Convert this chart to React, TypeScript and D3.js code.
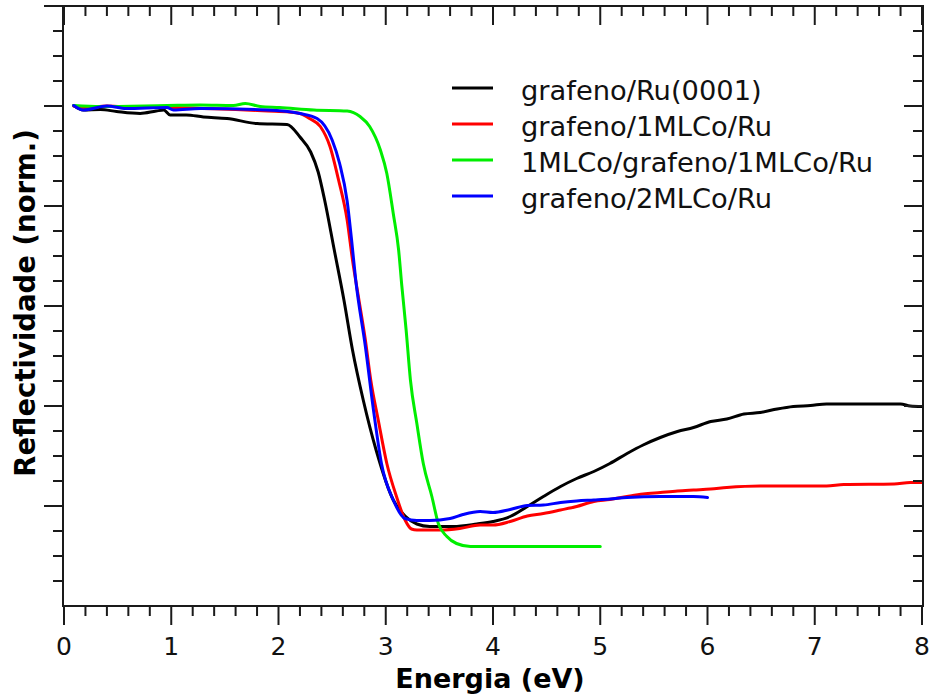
import React from "react";
import * as d3 from "d3";

const W = 932;
const H = 698;

const seriesNames = [
  "grafeno/Ru(0001)",
  "grafeno/1MLCo/Ru",
  "1MLCo/grafeno/1MLCo/Ru",
  "grafeno/2MLCo/Ru",
];
const seriesColors = ["#000000", "#ff0000", "#00ee00", "#0000ff"];

const xTicks = [0, 1, 2, 3, 4, 5, 6, 7, 8];

// grafeno/Ru(0001)
const blackX = [0.09, 0.18, 0.34, 0.49, 0.71, 0.86, 0.93, 0.99, 1.14, 1.3, 1.52, 1.8, 2.08, 2.2, 2.3, 2.37, 2.43, 2.52, 2.61, 2.69, 2.79, 2.91, 3.07, 3.18, 3.29, 3.41, 3.63, 3.85, 4.0, 4.16, 4.32, 4.47, 4.63, 4.78, 4.94, 5.09, 5.25, 5.4, 5.56, 5.72, 5.87, 6.03, 6.18, 6.34, 6.49, 6.65, 6.8, 6.96, 7.11, 7.43, 7.8, 7.89, 8.0];
const blackY = [1.001, 0.992, 0.993, 0.989, 0.985, 0.99, 0.992, 0.982, 0.982, 0.978, 0.975, 0.965, 0.963, 0.938, 0.908, 0.868, 0.812, 0.712, 0.612, 0.512, 0.412, 0.312, 0.212, 0.18, 0.164, 0.159, 0.159, 0.164, 0.169, 0.179, 0.199, 0.219, 0.239, 0.255, 0.269, 0.285, 0.305, 0.322, 0.337, 0.349, 0.357, 0.369, 0.374, 0.384, 0.387, 0.394, 0.399, 0.401, 0.404, 0.404, 0.404, 0.4, 0.399];

// grafeno/1MLCo/Ru
const redX = [0.09, 0.2, 0.4, 0.7, 1.0, 1.3, 1.6, 1.9, 2.1, 2.2, 2.29, 2.39, 2.48, 2.56, 2.64, 2.69, 2.75, 2.81, 2.86, 2.93, 3.01, 3.1, 3.18, 3.24, 3.29, 3.51, 3.69, 3.88, 4.0, 4.16, 4.32, 4.47, 4.63, 4.78, 4.94, 5.09, 5.25, 5.4, 5.56, 5.72, 5.87, 6.03, 6.18, 6.49, 7.11, 7.27, 7.74, 7.89, 8.0];
const redY = [1.0, 0.996, 1.0, 0.997, 0.997, 0.995, 0.993, 0.99, 0.988, 0.985, 0.975, 0.959, 0.919, 0.852, 0.772, 0.692, 0.612, 0.532, 0.452, 0.372, 0.285, 0.219, 0.172, 0.154, 0.152, 0.152, 0.155, 0.162, 0.162, 0.169, 0.18, 0.185, 0.192, 0.199, 0.209, 0.213, 0.219, 0.224, 0.227, 0.23, 0.232, 0.234, 0.237, 0.24, 0.24, 0.243, 0.244, 0.247, 0.247];

// 1MLCo/grafeno/1MLCo/Ru
const greenX = [0.09, 0.34, 0.96, 1.27, 1.58, 1.69, 1.83, 2.01, 2.33, 2.64, 2.76, 2.85, 2.95, 3.01, 3.07, 3.12, 3.15, 3.19, 3.23, 3.29, 3.35, 3.43, 3.49, 3.57, 3.66, 3.79, 5.0];
const greenY = [1.001, 0.999, 1.001, 1.002, 1.001, 1.005, 0.999, 0.997, 0.992, 0.99, 0.979, 0.959, 0.912, 0.865, 0.785, 0.712, 0.64, 0.552, 0.452, 0.365, 0.285, 0.219, 0.165, 0.139, 0.125, 0.119, 0.119];

// grafeno/2MLCo/Ru
const blueX = [0.09, 0.18, 0.4, 0.58, 0.96, 1.02, 1.27, 1.89, 2.2, 2.36, 2.5, 2.57, 2.64, 2.68, 2.72, 2.81, 2.89, 2.96, 3.07, 3.18, 3.29, 3.41, 3.6, 3.72, 3.88, 4.0, 4.16, 4.32, 4.47, 4.63, 4.78, 4.94, 5.09, 5.25, 5.56, 5.87, 6.0];
const blueY = [1.001, 0.992, 1.0, 0.995, 0.997, 0.992, 0.995, 0.992, 0.985, 0.975, 0.932, 0.885, 0.81, 0.735, 0.652, 0.519, 0.385, 0.285, 0.212, 0.175, 0.171, 0.171, 0.175, 0.183, 0.189, 0.187, 0.193, 0.201, 0.202, 0.207, 0.21, 0.212, 0.214, 0.217, 0.219, 0.219, 0.217];

const seriesXs = [blackX, redX, greenX, blueX];
const seriesYs = [blackY, redY, greenY, blueY];

const FONT = "'DejaVu Sans', Verdana, sans-serif";

export default function App() {
  const left = 64, right = 922, top = 6, bottom = 606;
  const x = d3.scaleLinear().domain([0, 8]).range([left, right]);
  const y = d3.scaleLinear().domain([0, 1.2]).range([bottom, top]);

  const line = d3
    .line<[number, number]>()
    .x((d) => x(d[0]))
    .y((d) => y(d[1]))
    .curve(d3.curveMonotoneX);

  const xMinor = d3.range(0, 8.0001, 0.2).map((v) => +v.toFixed(2));
  const yMinor = d3.range(0, 1.2001, 0.05).map((v) => +v.toFixed(3));
  const isMajorX = (v: number) => Math.abs(v - Math.round(v)) < 1e-6;
  const isMajorY = (v: number) => Math.abs(v / 0.2 - Math.round(v / 0.2)) < 1e-6;

  const axisColor = "#1a1a1a";
  const fx0 = left - 1, fx1 = right + 1;

  return (
    <svg
      width={W}
      height={H}
      style={{ position: "absolute", left: 0, top: 0, background: "#fff", display: "block" }}
    >
      <rect x={0} y={0} width={W} height={H} fill="#fff" />
      {/* curves */}
      <g fill="none" strokeWidth={3} strokeLinejoin="round" strokeLinecap="round">
        {seriesXs.map((xs, i) => {
          const pts: [number, number][] = xs.map((v, j) => [v, seriesYs[i][j]]);
          return <path key={i} d={line(pts) || ""} stroke={seriesColors[i]} />;
        })}
      </g>
      {/* frame */}
      <rect x={fx0} y={top} width={fx1 - fx0} height={bottom - top} fill="none" stroke={axisColor} strokeWidth={2} />
      {/* ticks */}
      <g stroke={axisColor} strokeWidth={2}>
        {xMinor.map((v) => {
          const len = isMajorX(v) ? 19 : 10;
          return (
            <g key={"xt" + v}>
              <line x1={x(v)} x2={x(v)} y1={bottom} y2={bottom + len} />
              <line x1={x(v)} x2={x(v)} y1={top} y2={top + len} />
            </g>
          );
        })}
        {yMinor.map((v) => {
          if (v === 0) return null;
          const len = isMajorY(v) ? 19 : 10;
          return (
            <g key={"yt" + v}>
              <line x1={fx0} x2={fx0 - len} y1={y(v)} y2={y(v)} />
              <line x1={fx1} x2={fx1 - len} y1={y(v)} y2={y(v)} />
            </g>
          );
        })}
      </g>
      {/* x tick labels */}
      <g fontFamily={FONT} fontSize={25} fill="#111" textAnchor="middle">
        {xTicks.map((t) => (
          <text key={"xl" + t} x={x(t)} y={655}>
            {t}
          </text>
        ))}
      </g>
      {/* axis titles */}
      <text x={490} y={688} fontFamily={FONT} fontSize={27} fontWeight="bold" textAnchor="middle" fill="#000">
        Energia (eV)
      </text>
      <text
        transform={`translate(35,303) rotate(-90)`}
        fontFamily={FONT}
        fontSize={27.5}
        fontWeight="bold"
        textAnchor="middle"
        fill="#000"
      >
        Reflectividade (norm.)
      </text>
      {/* legend */}
      <g fontFamily={FONT} fontSize={27.3} fill="#111">
        {seriesNames.map((n, i) => (
          <g key={n}>
            <line x1={452} x2={493} y1={88 + i * 36} y2={88 + i * 36} stroke={seriesColors[i]} strokeWidth={3} />
            <text x={521} y={100 + i * 36}>
              {n}
            </text>
          </g>
        ))}
      </g>
    </svg>
  );
}
